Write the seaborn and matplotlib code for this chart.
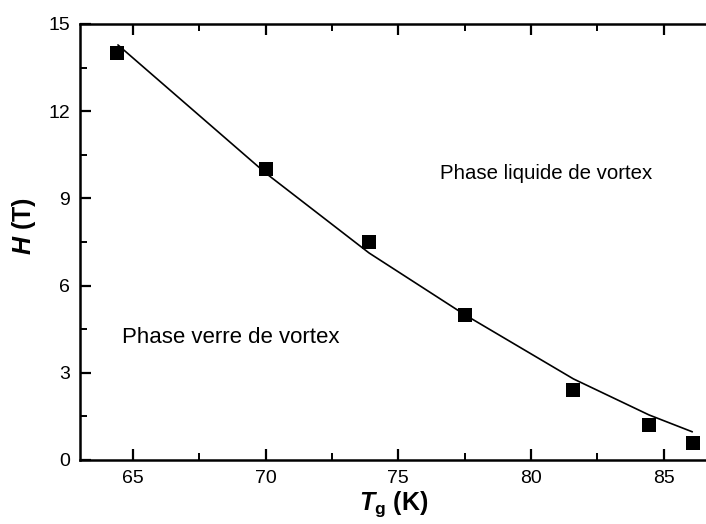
import matplotlib
matplotlib.use("Agg")
import matplotlib.pyplot as plt
import seaborn as sns
import pandas as pd
from matplotlib.ticker import MultipleLocator

# Data
tg_data = [64.4, 70.0, 73.9, 77.5, 81.6, 84.45, 86.1]
h_data = [14.0, 10.0, 7.5, 5.0, 2.4, 1.2, 0.6]

# Fitted curve
tg_fit = [64.43, 70.0, 73.9, 77.5, 81.6, 84.45, 86.08]
h_fit = [14.28, 9.87, 7.12, 5.0, 2.79, 1.55, 0.97]

x_ticks = [65, 70, 75, 80, 85]
y_ticks = [0, 3, 6, 9, 12, 15]

sns.set_theme(style="ticks")
plt.rcParams['font.family'] = ['Liberation Sans', 'DejaVu Sans']
plt.rcParams['text.color'] = 'black'
plt.rcParams['axes.labelcolor'] = 'black'
plt.rcParams['xtick.color'] = 'black'
plt.rcParams['ytick.color'] = 'black'
plt.rcParams['mathtext.fontset'] = 'custom'
plt.rcParams['mathtext.rm'] = 'Liberation Sans'
plt.rcParams['mathtext.it'] = 'Liberation Sans:italic'
plt.rcParams['mathtext.bf'] = 'Liberation Sans:bold'
plt.rcParams['mathtext.bfit'] = 'Liberation Sans:italic:bold'

fig = plt.figure(figsize=(7.06, 5.24), dpi=100)
ax = fig.add_axes([80/706, 1 - 460/524, 1 - 80/706 + 0.002, (460 - 24)/524])

df_fit = pd.DataFrame({"T": tg_fit, "H": h_fit})
df_data = pd.DataFrame({"T": tg_data, "H": h_data})

sns.lineplot(data=df_fit, x="T", y="H", ax=ax, color="black", linewidth=1.2,
             sort=False, estimator=None)
sns.scatterplot(data=df_data, x="T", y="H", ax=ax, marker="s", s=110,
                color="black", edgecolor="black", linewidth=0, zorder=3)

ax.set_xlim(63.0, 86.65)
ax.set_ylim(0, 15)
ax.set_xticks(x_ticks)
ax.set_yticks(y_ticks)
ax.xaxis.set_minor_locator(MultipleLocator(2.5))
ax.yaxis.set_minor_locator(MultipleLocator(1.5))

for side in ["left", "bottom", "top"]:
    ax.spines[side].set_linewidth(1.8)
    ax.spines[side].set_color("black")
ax.spines["right"].set_visible(False)

ax.tick_params(axis="both", which="major", direction="in", length=8, width=1.6,
               labelsize=14, colors="black", pad=7)
ax.tick_params(axis="both", which="minor", direction="in", length=5, width=1.4)
ax.tick_params(axis="x", which="both", top=True)
ax.tick_params(axis="y", which="both", right=False)

ax.set_xlabel(r"$\mathbfit{T}_\mathbf{g}$ (K)", fontsize=18, fontweight="bold", labelpad=2)
ax.set_ylabel(r"$\mathbfit{H}$ (T)", fontsize=18, fontweight="bold")
ax.yaxis.set_label_coords(-0.067, 0.537)

ax.text(76.58, 9.66, "Phase liquide de vortex", fontsize=14.7, ha="left", va="baseline")
ax.text(64.6, 4.04, "Phase verre de vortex", fontsize=16, ha="left", va="baseline")

fig.savefig("out.png", dpi=100)
